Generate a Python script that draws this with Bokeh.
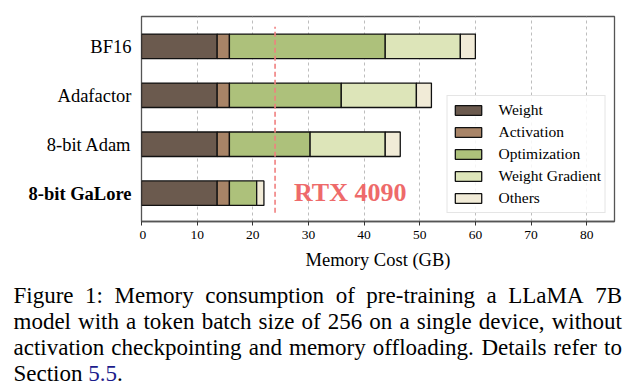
from bokeh.plotting import figure
from bokeh.models import (ColumnDataSource, Range1d, Legend, LegendItem, Label,
                          SingleIntervalTicker)
from bokeh.layouts import row, column
from bokeh.embed import file_html
from bokeh.resources import INLINE

# ---------------- data ----------------
methods = ["BF16", "Adafactor", "8-bit Adam", "8-bit GaLore"]
components = ["Weight", "Activation", "Optimization", "Weight Gradient", "Others"]
weight = [13.6, 13.6, 13.6, 13.6]
activation = [2.2, 2.2, 2.2, 2.2]
optimization = [28.0, 20.1, 14.5, 4.9]
weight_gradient = [13.5, 13.5, 13.5, 0.0]
others = [2.7, 2.7, 2.7, 1.3]
gpu_limit_gb = 24
gpu_name = "RTX 4090"
x_ticks = [0, 10, 20, 30, 40, 50, 60, 70, 80]
x_label = "Memory Cost (GB)"
caption_lines = [
    "Figure 1:  Memory consumption of pre-training a LLaMA 7B",
    "model with a token batch size of 256 on a single device, without",
    "activation checkpointing and memory offloading. Details refer to",
]
caption_last = ["Section ", "5.5", "."]

colors = ["#6B5A4E", "#A88467", "#ADC17B", "#DDE5B9", "#F1EBD7"]
FONT = "Liberation Serif"
BASE_FIX = 0.3   # em: the rendered alphabetic baseline sits this much low

# ---------------- layout geometry ----------------
TOTAL_W = 643
LAB_W = 139          # width of the category-label strip
TOP_H = 280          # height of the chart row
CAP_H = 107          # height of the caption strip
FRAME_TOP = 16
FRAME_BOTTOM = 221
FRAME_W = 473
BORDER_L = 2
MAIN_W = TOTAL_W - LAB_W

yrange = Range1d(-0.578, 3.609)
ypos = [len(methods) - 1 - i for i in range(len(methods))]

# ---------------- main chart ----------------
p = figure(width=MAIN_W, height=TOP_H, output_backend="svg", toolbar_location=None,
           x_range=Range1d(0, 85), y_range=yrange, y_axis_location=None,
           min_border_left=BORDER_L, min_border_right=MAIN_W - BORDER_L - FRAME_W,
           min_border_top=FRAME_TOP, min_border_bottom=TOP_H - FRAME_BOTTOM)
p.background_fill_color = "white"
p.border_fill_color = "white"
p.outline_line_color = "#555555"
p.outline_line_width = 1.3

source = ColumnDataSource(dict(
    y=ypos, Weight=weight, Activation=activation, Optimization=optimization,
    WG=weight_gradient, Others=others))
stackers = ["Weight", "Activation", "Optimization", "WG", "Others"]
renderers = p.hbar_stack(stackers, y="y", height=0.5, color=colors, source=source,
                         line_color="#111111", line_width=1.3)

p.ygrid.grid_line_color = None
p.xgrid.grid_line_color = "#b5b5b5"
p.xgrid.grid_line_dash = "3 3"
p.xgrid.grid_line_width = 0.9
p.xaxis.ticker = SingleIntervalTicker(interval=10)
p.xaxis.minor_tick_line_color = None
p.xaxis.major_tick_out = 4
p.xaxis.major_tick_in = 0
p.xaxis.major_tick_line_color = "#333333"
p.xaxis.axis_line_color = "#555555"
p.xaxis.axis_line_width = 1.3
p.xaxis.major_label_text_font = FONT
p.xaxis.major_label_text_font_size = "13.5px"
p.xaxis.major_label_text_color = "black"
p.xaxis.major_label_standoff = 5
p.xaxis.axis_label = x_label
p.xaxis.axis_label_text_font = FONT
p.xaxis.axis_label_text_font_size = "18.5px"
p.xaxis.axis_label_text_font_style = "normal"
p.xaxis.axis_label_text_color = "black"
p.xaxis.axis_label_standoff = 8

# GPU memory limit
RTX_SIZE = 26
p.segment(x0=[gpu_limit_gb], y0=[-0.4], x1=[gpu_limit_gb], y1=[3.4],
          line_color="#F07F7F", line_width=1.6, line_dash="5 3")
p.add_layout(Label(x=27.4, y=0, y_offset=-7 + BASE_FIX * RTX_SIZE, text=gpu_name,
                   text_align="left", text_baseline="alphabetic", text_font=FONT,
                   text_font_size=f"{RTX_SIZE}px", text_font_style="bold",
                   text_color="#EE6A6A"))

items = [LegendItem(label=c, renderers=[r]) for c, r in zip(components, renderers)]
legend = Legend(items=items, location="bottom_right", margin=8, padding=4,
                spacing=2, glyph_width=33, glyph_height=12, label_height=20,
                label_standoff=14, label_text_font=FONT,
                label_text_font_size="15.5px", label_text_color="black",
                border_line_color="#cccccc", border_line_width=1,
                background_fill_alpha=0.85)
p.add_layout(legend, "center")

# ---------------- category labels strip ----------------
LAB_SIZE = 18.5
pl = figure(width=LAB_W, height=TOP_H, output_backend="svg", toolbar_location=None,
            x_range=Range1d(0, LAB_W), y_range=yrange,
            x_axis_location=None, y_axis_location=None,
            min_border_left=0, min_border_right=0, min_border_top=FRAME_TOP,
            min_border_bottom=TOP_H - FRAME_BOTTOM)
pl.grid.visible = False
pl.outline_line_color = None
pl.background_fill_color = "white"
pl.border_fill_color = "white"
for m, yv in zip(methods, ypos):
    pl.add_layout(Label(x=LAB_W - 8, y=yv, y_offset=-6 + BASE_FIX * LAB_SIZE, text=m,
                        text_align="right", text_baseline="alphabetic",
                        text_font=FONT, text_font_size=f"{LAB_SIZE}px",
                        text_font_style="bold" if "GaLore" in m else "normal",
                        text_color="black"))

# ---------------- caption strip (justified) ----------------
pc = figure(width=TOTAL_W, height=CAP_H, output_backend="svg", toolbar_location=None,
            x_range=Range1d(0, TOTAL_W), y_range=Range1d(CAP_H, 0),
            x_axis_location=None, y_axis_location=None,
            min_border_left=0, min_border_right=0, min_border_top=0,
            min_border_bottom=0)
pc.grid.visible = False
pc.outline_line_color = None
pc.background_fill_color = "white"
pc.border_fill_color = "white"

CW = dict(zip("abcdefghijklmnopqrstuvwxyz",
              [444, 500, 444, 500, 444, 333, 500, 500, 278, 278, 500, 278, 778, 500,
               500, 500, 500, 333, 389, 278, 500, 500, 722, 500, 500, 444]))
CW.update({"A": 722, "B": 667, "D": 722, "F": 556, "L": 611, "M": 889, "S": 556,
           " ": 250, ".": 250, ",": 250, ":": 278, "-": 333})
CS = 23.0


def tw(s):
    return sum(CW.get(ch, 500) for ch in s) * CS / 1000.0


cap_left, cap_right = 13.0, 621.5
cap_base = [b - BASE_FIX * CS for b in (21.7, 47.7, 74.0, 100.0)]
for line, yb in zip(caption_lines, cap_base):
    words = line.split()
    widths = [tw(w) for w in words]
    gap = (cap_right - cap_left - sum(widths)) / (len(words) - 1)
    x = cap_left
    for k, (w, wd) in enumerate(zip(words, widths)):
        last = k == len(words) - 1
        pc.add_layout(Label(x=cap_right if last else x, y=yb, text=w,
                            text_align="right" if last else "left",
                            text_baseline="alphabetic", text_font=FONT,
                            text_font_size=f"{CS}px", text_color="black"))
        x += wd + gap

x = cap_left
for k, part in enumerate(caption_last):
    pc.add_layout(Label(x=x, y=cap_base[3], text=part.strip(), text_align="left",
                        text_baseline="alphabetic", text_font=FONT,
                        text_font_size=f"{CS}px",
                        text_color="#1C1C8C" if k == 1 else "black"))
    x += tw(part)

layout = column(row(pl, p, spacing=0), pc, spacing=0)
open("out.html", "w").write(file_html(layout, INLINE))
